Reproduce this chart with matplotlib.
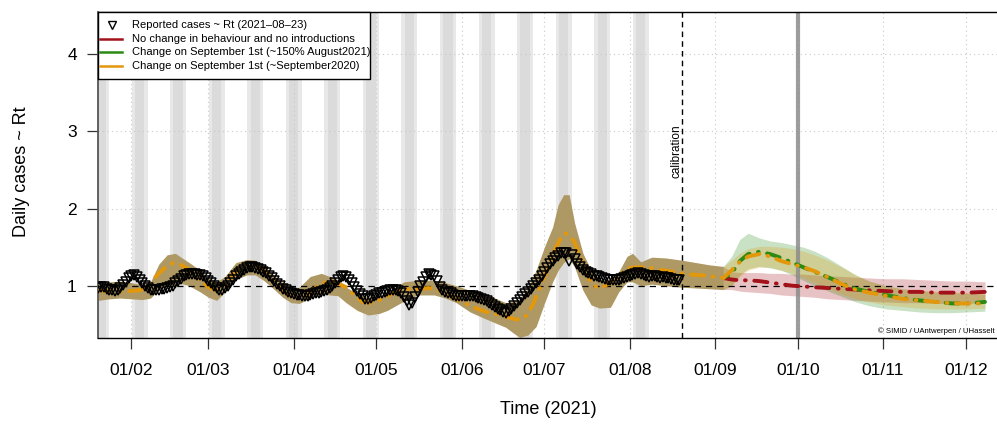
import matplotlib
matplotlib.use("Agg")
import matplotlib.pyplot as plt
from matplotlib.patches import Rectangle
from matplotlib.lines import Line2D

plt.rcParams['font.family'] = ['Liberation Sans', 'DejaVu Sans']

# ---------------- data (day of year 2021, Jan 1 = 1) ----------------
obs_start = 20
obs_rt = [.97, .98, .98, .96, .95, .94, .93, .95, .97, 1.01,
          1.05, 1.10, 1.13, 1.14, 1.11, 1.08, 1.04, 1.00, .97, .95,
          .94, .94, .95, .96, .96, .97, .98, 1.00, 1.03, 1.06,
          1.09, 1.12, 1.14, 1.15, 1.15, 1.15, 1.14, 1.14, 1.12, 1.10,
          1.06, 1.03, 1.00, .97, .95, .94, .97, 1.00, 1.04, 1.08,
          1.12, 1.15, 1.18, 1.21, 1.23, 1.24, 1.24, 1.23, 1.22, 1.20,
          1.18, 1.16, 1.13, 1.10, 1.06, 1.02, .99, .96, .94, .92,
          .90, .89, .88, .88, .87, .87, .87, .88, .89, .90,
          .91, .92, .93, .95, .97, 1.00, 1.04, 1.08, 1.11, 1.13,
          1.11, 1.08, 1.03, .98, .93, .89, .86, .83, .83, .84,
          .86, .88, .90, .91, .92, .93, .94, .94, .94, .93,
          .90, .85, .80, .75, .78, .85, .92, .99, 1.05, 1.11,
          1.15, 1.14, 1.12, 1.06, .98, .94, .92, .91, .90, .88,
          .87, .86, .86, .86, .86, .86, .86, .85, .84, .83,
          .82, .80, .77, .75, .73, .70, .68, .66, .65, .67,
          .70, .74, .77, .81, .85, .89, .92, .96, .99, 1.03,
          1.07, 1.12, 1.18, 1.23, 1.28, 1.32, 1.36, 1.39, 1.42, 1.43,
          1.42, 1.32, 1.40, 1.35, 1.28, 1.24, 1.20, 1.18, 1.17, 1.15,
          1.13, 1.12, 1.11, 1.10, 1.09, 1.08, 1.07, 1.07, 1.07, 1.08,
          1.09, 1.10, 1.11, 1.12, 1.14, 1.15, 1.16, 1.15, 1.14, 1.12,
          1.11, 1.12, 1.12, 1.11, 1.10, 1.11, 1.10, 1.10, 1.09, 1.08,
          1.07, 1.07]
obs_days = list(range(obs_start, obs_start + len(obs_rt)))

fit_days = [20, 24, 27, 31, 35, 38, 42, 45, 47, 50, 52, 55, 57, 60, 63, 65, 68,
            70, 73, 75, 78, 80, 82, 85, 87, 89, 92, 95, 97, 100, 102, 104, 107,
            110, 113, 116, 119, 122, 125, 128, 131, 134, 137, 140, 143, 146,
            150, 154, 157, 160, 163, 166, 169, 172, 174, 176, 178, 180, 182,
            184, 186, 188, 189.5, 191, 193, 195, 197, 199, 201, 203, 205, 207,
            209, 211, 213, 217, 221, 225, 229, 233, 237, 241, 245, 247]
fit_mean = [.94, .93, .92, .93, .94, 1.00, 1.16, 1.26, 1.29, 1.27, 1.23, 1.14,
            1.07, .98, .94, .98, 1.10, 1.18, 1.24, 1.26, 1.24, 1.20, 1.14, 1.03,
            .94, .88, .84, .86, .92, 1.00, 1.04, 1.05, 1.03, .98, .88, .79, .78,
            .81, .87, .92, .95, .96, .96, .97, .95, .90, .83, .76, .71, .67,
            .64, .62, .59, .56, .57, .63, .77, .94, 1.12, 1.29, 1.48, 1.62,
            1.68, 1.66, 1.56, 1.38, 1.18, 1.04, .98, .98, 1.02, 1.07, 1.13,
            1.19, 1.23, 1.24, 1.23, 1.20, 1.18, 1.15, 1.14, 1.13, 1.11, 1.10]

band_days = [20, 24, 28, 32, 36, 39, 42, 45, 48, 50, 53, 57, 60, 63, 66, 70, 74,
             77, 80, 83, 87, 90, 93, 97, 101, 104, 107, 110, 114, 118, 122, 125,
             128, 131, 136, 142, 146, 150, 155, 160, 164, 168, 171, 173, 176,
             179, 182, 185, 187, 189, 191, 193, 196, 199, 202, 206, 209, 212,
             214, 217, 221, 226, 232, 237, 242, 247]
band_lo = [.81, .83, .84, .83, .82, .84, .95, 1.00, 1.02, 1.03, 1.00, .92, .85,
           .81, .92, 1.08, 1.14, 1.14, 1.07, .98, .85, .78, .77, .84, .90, .88,
           .87, .78, .68, .62, .64, .68, .74, .80, .88, .88, .84, .78, .66, .58,
           .52, .46, .38, .33, .36, .47, .77, 1.05, 1.20, 1.30, 1.35, 1.24, .94,
           .75, .71, .72, .92, 1.05, 1.05, 1.00, 1.02, 1.00, .98, .97, .96, .95]
band_hi = [1.07, 1.05, 1.06, 1.04, 1.01, 1.05, 1.28, 1.40, 1.42, 1.37, 1.30,
           1.20, 1.10, 1.05, 1.12, 1.30, 1.34, 1.33, 1.27, 1.16, 1.04, .97, .98,
           1.12, 1.16, 1.12, 1.08, .98, .90, .85, .87, .92, .98, 1.05, 1.07,
           1.07, 1.04, 1.00, .94, .89, .84, .78, .80, .82, .98, 1.20, 1.50,
           1.76, 2.05, 2.18, 2.18, 1.81, 1.42, 1.20, 1.08, 1.07, 1.18, 1.38,
           1.42, 1.31, 1.37, 1.36, 1.33, 1.30, 1.27, 1.25]

post_days = [247, 250, 253, 256, 260, 264, 268, 272, 276, 280, 285, 290, 295,
             300, 306, 312, 318, 324, 330, 336, 342]
red_mean = [1.10, 1.08, 1.07, 1.07, 1.06, 1.04, 1.02, 1.00, .99, .98, .97, .96,
            .95, .94, .93, .92, .92, .91, .91, .91, .92]
red_lo = [.95, .95, .93, .92, .91, .90, .88, .87, .86, .85, .83, .82, .81, .80,
          .79, .78, .78, .77, .77, .77, .78]
red_hi = [1.25, 1.18, 1.17, 1.17, 1.17, 1.16, 1.16, 1.15, 1.15, 1.14, 1.13,
          1.12, 1.11, 1.10, 1.09, 1.09, 1.08, 1.07, 1.06, 1.06, 1.05]
green_mean = [1.10, 1.16, 1.32, 1.41, 1.44, 1.41, 1.36, 1.30, 1.24, 1.18, 1.11,
              1.03, .96, .92, .88, .84, .81, .79, .77, .77, .79]
green_lo = [.95, 1.00, 1.14, 1.22, 1.25, 1.23, 1.20, 1.14, 1.07, 1.00, .93, .86,
            .79, .74, .70, .68, .66, .65, .65, .66, .67]
green_hi = [1.25, 1.38, 1.60, 1.68, 1.62, 1.58, 1.56, 1.53, 1.50, 1.45, 1.36,
            1.25, 1.14, 1.06, 1.00, .96, .94, .92, .91, .90, .89]
orange_mean = [1.10, 1.20, 1.31, 1.38, 1.41, 1.38, 1.32, 1.28, 1.24, 1.19, 1.11,
               1.02, .95, .91, .87, .83, .81, .79, .77, .77, .77]
orange_lo = [.95, 1.00, 1.12, 1.20, 1.24, 1.24, 1.20, 1.16, 1.10, 1.04, .96, .89,
             .83, .79, .75, .73, .71, .70, .70, .70, .71]
orange_hi = [1.25, 1.33, 1.42, 1.48, 1.51, 1.51, 1.50, 1.48, 1.45, 1.40, 1.33,
             1.24, 1.14, 1.06, 1.00, .96, .94, .93, .92, .91, .90]

shade_starts = list(range(18, 215, 14))
month_days = [32, 60, 91, 121, 152, 182, 213, 244, 274, 305, 335]
month_labels = ['01/02', '01/03', '01/04', '01/05', '01/06', '01/07', '01/08',
                '01/09', '01/10', '01/11', '01/12']
calib_day = 232
oct_day = 274

legend_labels = ['Reported cases ~ Rt (2021\u201308\u201323)',
                 'No change in behaviour and no introductions',
                 'Change on September 1st (~150% August2021)',
                 'Change on September 1st (~September2020)']

# ---------------- styling ----------------
RED = '#A3121A'
GREEN = '#2A8A14'
ORANGE = '#E3970A'
KHAKI = '#AE9863'

W, H = 997, 430
fig = plt.figure(figsize=(W / 100, H / 100), dpi=100)
L, R, T, B = 97.7, 1001, 11.7, 338.3
ax = fig.add_axes([L / W, 1 - B / H, (R - L) / W, (B - T) / H])

xpx = (965.7 - 131.3) / 303.0
ax.set_xlim(32 - (131.3 - L) / xpx, 335 + (R - 965.7) / xpx)
ypx = (285.7 - 54.3) / 3.0
ax.set_ylim(1 - (B - 285.7) / ypx, 4 + (54.3 - T) / ypx)

# gray periodic bands
for s in shade_starts:
    ax.axvspan(s + 0.1, s + 5.9, color='#e8e8e8', lw=0, zorder=0.5)
    ax.axvspan(s + 1.3, s + 4.7, color='#dbdbdb', lw=0, zorder=0.6)

# grid
for d in month_days:
    ax.axvline(d, color='#c8c8c8', lw=0.8, ls=(0, (1, 3)), zorder=0.8)
for yv in [2, 3, 4]:
    ax.axhline(yv, color='#c8c8c8', lw=0.8, ls=(0, (1, 3)), zorder=0.8)

# bands
ax.fill_between(band_days, band_lo, band_hi, color=KHAKI, lw=0, zorder=1)
ax.fill_between(post_days, red_lo, red_hi, color=RED, alpha=0.25, lw=0, zorder=1.1)
ax.fill_between(post_days, green_lo, green_hi, color=GREEN, alpha=0.25, lw=0, zorder=1.2)
ax.fill_between(post_days, orange_lo, orange_hi, color=ORANGE, alpha=0.25, lw=0, zorder=1.3)

# reference lines
ax.axhline(1, color='black', lw=0.9, ls=(0, (5, 4)), zorder=2)
ax.axvline(calib_day, color='black', lw=1.0, ls=(0, (4, 3)), zorder=2)
ax.axvline(oct_day, color='#8c8c8c', lw=3.0, alpha=0.85, zorder=2)

# model lines
dd = (0, (3.4, 2.2, 0.2, 2.2))
ax.plot(post_days, red_mean, color=RED, lw=2.8, ls=dd, dash_capstyle='round', zorder=3)
ax.plot(post_days, green_mean, color=GREEN, lw=2.8, ls=(2.0, (3.4, 2.2, 0.2, 2.2)),
        dash_capstyle='round', zorder=3.1)
ax.plot(post_days, orange_mean, color=ORANGE, lw=2.8, ls=dd, dash_capstyle='round', zorder=3.2)
ax.plot(fit_days, fit_mean, color=ORANGE, lw=2.8, ls=dd, dash_capstyle='round', zorder=3.2)

# observations
ax.plot(obs_days, obs_rt, ls='none', marker='v', ms=6.8, mfc='none', mec='black',
        mew=1.1, zorder=4)

# text annotations
ax.text(calib_day - 2.2, 2.75, 'calibration', rotation=90, ha='center', va='center',
        fontsize=8.5, zorder=5)
fig.text(995 / W, 1 - 331 / H, '\u00a9 SIMID / UAntwerpen / UHasselt', ha='right',
         va='center', fontsize=5.6)

# axes
ax.set_xticks(month_days)
ax.set_xticklabels(month_labels)
ax.set_yticks([1, 2, 3, 4])
ax.set_yticklabels(['1', '2', '3', '4'])
ax.tick_params(axis='both', direction='out', length=8, width=0.9, labelsize=12.5,
               color='#333333')
ax.tick_params(axis='x', pad=10)
ax.tick_params(axis='y', pad=7)
for side in ['top', 'bottom']:
    ax.spines[side].set_color('black')
    ax.spines[side].set_linewidth(1.0)
ax.spines['left'].set_color('#555555')
ax.spines['left'].set_linewidth(1.3)
ax.spines['right'].set_visible(False)

fig.text(548 / W, 1 - 410 / H, 'Time (2021)', ha='center', va='center', fontsize=13)
fig.text(21 / W, 1 - 172 / H, 'Daily cases ~ Rt', ha='center', va='center',
         rotation=90, fontsize=13)

# legend (drawn manually)
def fx(x):
    return x / W

def fy(y):
    return 1 - y / H

fig.patches.append(Rectangle((fx(98.3), fy(79)), fx(370) - fx(98.3), fy(11.7) - fy(79),
                             transform=fig.transFigure, facecolor='white',
                             edgecolor='black', lw=1.0, zorder=10))
rows = [25, 39, 52.3, 66]
cols = [None, RED, GREEN, ORANGE]
for yrow, c, lab in zip(rows, cols, legend_labels):
    if c is None:
        fig.add_artist(Line2D([fx(111.5)], [fy(yrow)], marker='v', ms=6, mfc='none',
                              mec='black', mew=1.0, ls='none',
                              transform=fig.transFigure, zorder=11))
    else:
        fig.add_artist(Line2D([fx(100), fx(122)], [fy(yrow), fy(yrow)], color=c,
                              lw=1.8, transform=fig.transFigure, zorder=11))
    fig.text(fx(131.7), fy(yrow), lab, ha='left', va='center', fontsize=8, zorder=12)

fig.savefig('out.png', dpi=100)
